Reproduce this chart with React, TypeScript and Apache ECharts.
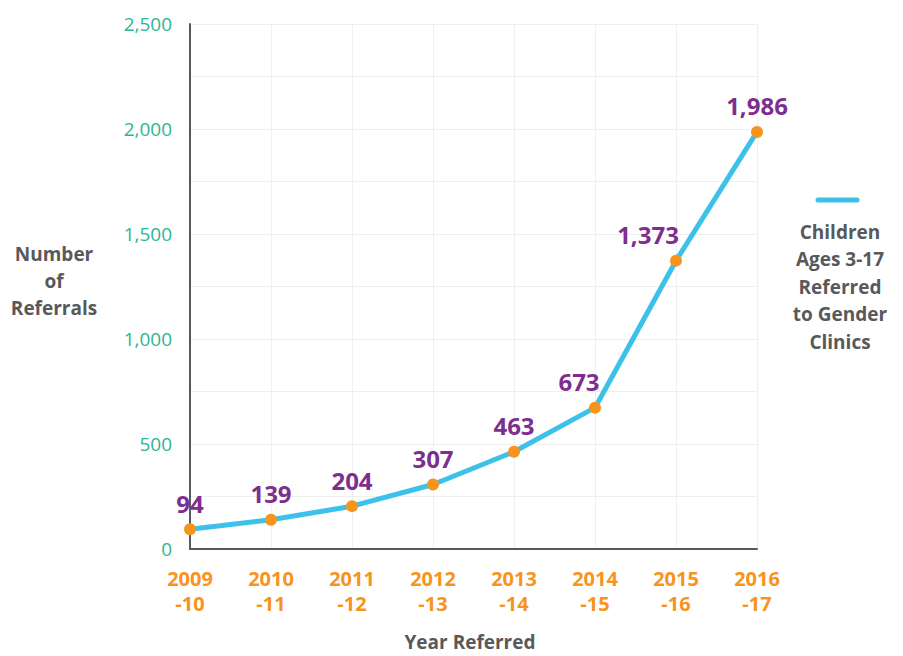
import React, { useEffect, useRef } from "react";
import * as echarts from "echarts";

const categories = ["2009\n-10", "2010\n-11", "2011\n-12", "2012\n-13", "2013\n-14", "2014\n-15", "2015\n-16", "2016\n-17"];
const referrals = [94, 139, 204, 307, 463, 673, 1373, 1986];
const labelShiftX = [0, 0, 0, 0, 0, -16, -28, 0];
const seriesName = "Children\nAges 3-17\nReferred\nto Gender\nClinics";

const FONT = "'Open Sans', sans-serif";

export default function App() {
  const ref = useRef<HTMLDivElement>(null);
  useEffect(() => {
    if (!ref.current) return;
    document.body.style.margin = "0";
    const chart = echarts.init(ref.current, null, { renderer: "svg" });
    chart.setOption({
      animation: false,
      backgroundColor: "#ffffff",
      grid: { left: 190, right: 146, top: 24, bottom: 107, containLabel: false },
      xAxis: {
        type: "category",
        data: categories,
        boundaryGap: false,
        axisLine: { lineStyle: { color: "#58595B", width: 2 } },
        axisTick: { show: false },
        splitLine: { show: true, lineStyle: { color: "#EFEFEF", width: 1 } },
        axisLabel: {
          color: "#F7941D",
          fontFamily: FONT,
          fontWeight: "bold",
          fontSize: 20,
          lineHeight: 25,
          margin: 17,
        },
      },
      yAxis: {
        type: "value",
        min: 0,
        max: 2500,
        interval: 250,
        axisLine: { show: true, lineStyle: { color: "#58595B", width: 2 } },
        axisTick: { show: false },
        splitLine: { show: true, lineStyle: { color: "#EFEFEF", width: 1 } },
        axisLabel: {
          color: "#2DB592",
          fontFamily: FONT,
          fontSize: 19,
          margin: 18,
          formatter: (v: number) => (v % 500 === 0 ? v.toLocaleString("en-US") : ""),
        },
      },
      series: [
        {
          name: seriesName,
          type: "line",
          data: referrals.map((v, i) => ({
            value: v,
            label: { offset: [labelShiftX[i], 0] },
          })),
          smooth: false,
          symbol: "circle",
          symbolSize: 12,
          lineStyle: { color: "#3EC1E8", width: 5 },
          itemStyle: { color: "#F7941D" },
          label: {
            show: true,
            position: "top",
            distance: 8,
            color: "#7D2E8E",
            fontFamily: FONT,
            fontWeight: "bold",
            fontSize: 24,
            formatter: (p: any) => Number(p.value).toLocaleString("en-US"),
          },
          z: 3,
        },
      ],
      graphic: [
        {
          type: "text",
          x: 54,
          y: 240,
          style: {
            text: "Number\nof\nReferrals",
            fill: "#58595B",
            font: `bold 19px ${FONT}`,
            lineHeight: 27,
            align: "center",
          },
        },
        {
          type: "text",
          x: 470,
          y: 642,
          style: {
            text: "Year Referred",
            fill: "#58595B",
            font: `bold 19px ${FONT}`,
            align: "center",
            verticalAlign: "middle",
          },
        },
        {
          type: "line",
          shape: { x1: 818, y1: 200, x2: 857, y2: 200 },
          style: { stroke: "#3EC1E8", lineWidth: 5, lineCap: "round" },
        },
        {
          type: "text",
          x: 840,
          y: 218,
          style: {
            text: seriesName,
            fill: "#58595B",
            font: `bold 19px ${FONT}`,
            lineHeight: 27.5,
            align: "center",
          },
        },
      ],
    });
    return () => chart.dispose();
  }, []);
  return <div ref={ref} style={{ width: 903, height: 656 }} />;
}
